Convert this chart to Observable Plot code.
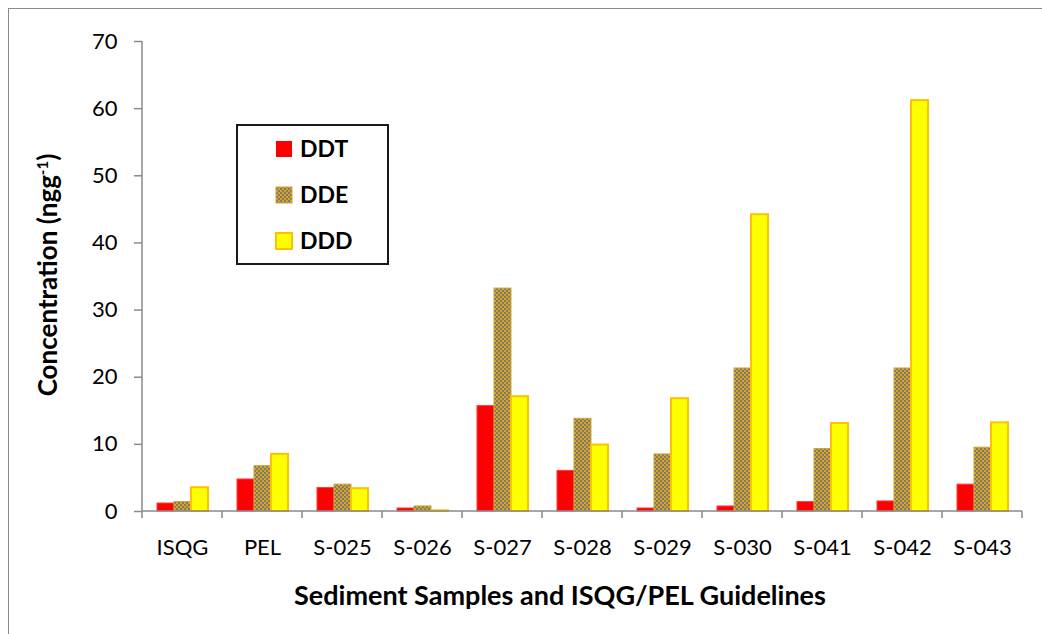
<!DOCTYPE html>
<html>
<head>
<meta charset="utf-8">
<script src="https://cdn.jsdelivr.net/npm/d3@7"></script>
<script src="https://cdn.jsdelivr.net/npm/@observablehq/plot@0.6"></script>
<style>
  html, body { margin: 0; padding: 0; background: #fff; }
  #wrap { position: relative; width: 1042px; height: 634px; overflow: hidden; }
  #frame { position: absolute; left: 8px; top: 8px; width: 1200px; height: 800px;
           border-left: 1px solid #8a8a8a; border-top: 1px solid #8a8a8a; pointer-events: none; }
</style>
</head>
<body>
<div id="wrap"><div id="frame"></div></div>
<script>
const categories = ["ISQG", "PEL", "S-025", "S-026", "S-027", "S-028", "S-029", "S-030", "S-041", "S-042", "S-043"];
const series = ["DDT", "DDE", "DDD"];
const ddt = [1.19, 4.77, 3.5, 0.45, 15.7, 6.05, 0.45, 0.75, 1.4, 1.5, 4.0];
const dde = [1.42, 6.75, 4.0, 0.75, 33.2, 13.8, 8.5, 21.3, 9.3, 21.3, 9.5];
const ddd = [3.54, 8.51, 3.4, 0.1, 17.1, 9.9, 16.8, 44.2, 13.1, 61.2, 13.2];
const yTicks = [0, 10, 20, 30, 40, 50, 60, 70];
const xTitle = "Sediment Samples and ISQG/PEL Guidelines";

const data = categories.flatMap((c, i) => [
  {cat: c, s: "DDT", v: ddt[i]},
  {cat: c, s: "DDE", v: dde[i]},
  {cat: c, s: "DDD", v: ddd[i]}
]);

const font = "Lato, Calibri, Carlito, 'Open Sans', sans-serif";
const axisGray = "#8a8a8a";

const plot = Plot.plot({
  width: 1042,
  height: 634,
  marginLeft: 138,
  marginRight: 16,
  marginTop: 41,
  marginBottom: 123,
  style: {fontFamily: font, fontSize: "22px", color: "#000", background: "transparent", overflow: "visible"},
  fx: {domain: categories, padding: 0, label: null},
  x: {domain: series, paddingInner: 0, paddingOuter: 0.74, axis: null},
  y: {domain: [0, 70], label: null},
  marks: [
    Plot.barY(data.filter(d => d.s === "DDT"), {fx: "cat", x: "s", y: "v", fill: "#ff0000", stroke: "#ff3b3b", strokeWidth: 1}),
    Plot.barY(data.filter(d => d.s === "DDE"), {fx: "cat", x: "s", y: "v", fill: "url(#ddePattern)", stroke: "#c9a43a", strokeWidth: 1}),
    Plot.barY(data.filter(d => d.s === "DDD"), {fx: "cat", x: "s", y: "v", fill: "#ffff00", stroke: "#ffc000", strokeWidth: 2}),
    Plot.axisY({ticks: yTicks, tickSize: 8, tickPadding: 17, stroke: axisGray, strokeWidth: 1.5, label: null, tickFormat: d => String(d), fontSize: 22}),
    Plot.axisFx({anchor: "bottom", tickSize: 0, tickPadding: 28, label: null, fontSize: 22})
  ]
});

document.getElementById("wrap").appendChild(plot);
plot.style.position = "absolute";
plot.style.left = "0px";
plot.style.top = "0px";

const svg = d3.select(plot);
svg.insert("defs", ":first-child").html(
  '<pattern id="ddePattern" width="4" height="4" patternUnits="userSpaceOnUse">' +
  '<rect width="4" height="4" fill="#d8a61e"/>' +
  '<rect x="0" y="0" width="2" height="2" fill="#7e7a70"/>' +
  '<rect x="2" y="2" width="2" height="2" fill="#7e7a70"/>' +
  '</pattern>'
);

const fx = plot.scale("fx");
const y = plot.scale("y");
const y0 = y.apply(0);
const yTop = y.apply(70);
const xLeft = fx.apply(categories[0]);
const xRight = fx.apply(categories[categories.length - 1]) + fx.bandwidth;

const g = svg.append("g").attr("stroke", axisGray).attr("stroke-width", 1.5).attr("fill", "none");
g.append("line").attr("x1", xLeft).attr("x2", xLeft).attr("y1", yTop).attr("y2", y0);
g.append("line").attr("x1", xLeft).attr("x2", xRight).attr("y1", y0).attr("y2", y0);
const bounds = categories.map(c => fx.apply(c)).concat([xRight]);
bounds.forEach(b => g.append("line").attr("x1", b).attr("x2", b).attr("y1", y0).attr("y2", y0 + 7));

// axis titles
svg.append("text")
  .attr("x", 560).attr("y", 605)
  .attr("text-anchor", "middle")
  .attr("font-family", font).attr("font-weight", "bold").attr("font-size", 27)
  .attr("fill", "#000")
  .text(xTitle);

const yt = svg.append("text")
  .attr("transform", "translate(57,275) rotate(-90)")
  .attr("text-anchor", "middle")
  .attr("font-family", font).attr("font-weight", "bold").attr("font-size", 26)
  .attr("fill", "#000");
yt.append("tspan").text("Concentration (ngg");
yt.append("tspan").attr("baseline-shift", "super").attr("font-size", 15).text("-1");
yt.append("tspan").text(")");

// legend
const lg = svg.append("g").attr("text-anchor", "start");
lg.append("rect").attr("x", 237).attr("y", 125).attr("width", 151).attr("height", 139)
  .attr("fill", "#fff").attr("stroke", "#1a1a1a").attr("stroke-width", 2);
const legendFills = ["#ff0000", "url(#ddePattern)", "#ffff00"];
const legendStrokes = ["none", "#c9a43a", "#ffc000"];
series.forEach((s, i) => {
  const yy = 141 + i * 46;
  lg.append("rect").attr("x", 276).attr("y", yy).attr("width", 16).attr("height", 16)
    .attr("fill", legendFills[i]).attr("stroke", legendStrokes[i]).attr("stroke-width", i === 2 ? 2 : 1);
  lg.append("text").attr("x", 300).attr("y", yy + 16)
    .attr("text-anchor", "start")
    .attr("font-family", font).attr("font-weight", "bold").attr("font-size", 23)
    .attr("fill", "#000").text(s);
});
</script>
</body>
</html>
